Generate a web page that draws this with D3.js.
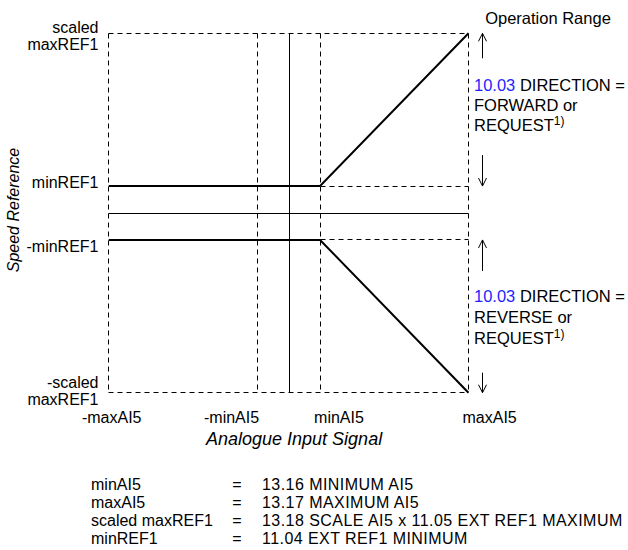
<!DOCTYPE html>
<html><head><meta charset="utf-8">
<script src="https://cdn.jsdelivr.net/npm/d3@7"></script>
<style>
html,body{margin:0;padding:0;background:#fff;}
svg{display:block;font-family:"Liberation Sans",Arial,sans-serif;}
</style></head>
<body><div id="chart"></div>
<script>
// ---- data ----
const xTicks = [-100, -17.5, 17.5, 100];
const xTickLabels = ["-maxAI5", "-minAI5", "minAI5", "maxAI5"];
const yTicks = [100, 15, -15, -100];
const yTickLabels = [["scaled", "maxREF1"], ["minREF1"], ["-minREF1"], ["-scaled", "maxREF1"]];
const forwardX = [-100, 17.5, 100];
const forwardY = [15, 15, 100];
const reverseX = [-100, 17.5, 100];
const reverseY = [-15, -15, -100];
const forwardText = ["DIRECTION =", "FORWARD or", "REQUEST"];
const reverseText = ["DIRECTION =", "REVERSE or", "REQUEST"];
const paramRef = "10.03";
const footerNames = ["minAI5", "maxAI5", "scaled maxREF1", "minREF1"];
const footerParams = ["13.16 MINIMUM AI5", "13.17 MAXIMUM AI5", "13.18 SCALE AI5 x 11.05 EXT REF1 MAXIMUM", "11.04 EXT REF1 MINIMUM"];
const xTitle = "Analogue Input Signal";
const yTitle = "Speed Reference";
const rangeTitle = "Operation Range";

// ---- drawing ----
const W = 628, H = 550;
const svg = d3.select("#chart").append("svg").attr("width", W).attr("height", H);
svg.append("rect").attr("width", W).attr("height", H).attr("fill", "#fff");

const x = d3.scaleLinear().domain([-100, 100]).range([108.7, 468.5]);
const y = d3.scaleLinear().domain([-100, 100]).range([392.7, 33.3]);
const px = v => Math.floor(v) + 0.5;
const dash = "5,4";
const g = svg.append("g");

// dashed guides
const xmin = px(x(-100)), xmax = px(x(100)), ytop = px(y(100)), ybot = px(y(-100));
xTicks.forEach(v => {
  g.append("line").attr("x1", px(x(v))).attr("x2", px(x(v))).attr("y1", ytop).attr("y2", ybot)
    .attr("stroke", "#000").attr("stroke-width", 1).attr("stroke-dasharray", dash);
});
[100, -100].forEach(v => {
  g.append("line").attr("x1", xmin).attr("x2", xmax).attr("y1", px(y(v))).attr("y2", px(y(v)))
    .attr("stroke", "#000").attr("stroke-width", 1).attr("stroke-dasharray", dash);
});
[15, -15].forEach(v => {
  g.append("line").attr("x1", px(x(17.5))).attr("x2", xmax).attr("y1", px(y(v))).attr("y2", px(y(v)))
    .attr("stroke", "#000").attr("stroke-width", 1).attr("stroke-dasharray", dash);
});

// axes (solid)
g.append("line").attr("x1", xmin).attr("x2", xmax).attr("y1", px(y(0))).attr("y2", px(y(0)))
  .attr("stroke", "#000").attr("stroke-width", 1);
g.append("line").attr("x1", px(x(0) + 1)).attr("x2", px(x(0) + 1)).attr("y1", ytop).attr("y2", ybot)
  .attr("stroke", "#000").attr("stroke-width", 1);

// curves
const line = d3.line().x(d => x(d[0])).y(d => y(d[1]));
g.append("path").attr("d", line(d3.zip(forwardX, forwardY)))
  .attr("fill", "none").attr("stroke", "#000").attr("stroke-width", 2);
g.append("path").attr("d", line(d3.zip(reverseX, reverseY)))
  .attr("fill", "none").attr("stroke", "#000").attr("stroke-width", 2);

// arrows
const ax = px(x(100) + 14);
function arrow(tipY, tailY) {
  const dir = tailY > tipY ? 1 : -1;
  g.append("line").attr("x1", ax).attr("x2", ax).attr("y1", tipY).attr("y2", tailY)
    .attr("stroke", "#000").attr("stroke-width", 1);
  g.append("path").attr("d", `M${ax - 4},${tipY + dir * 8}L${ax},${tipY}L${ax + 4},${tipY + dir * 8}`)
    .attr("fill", "none").attr("stroke", "#000").attr("stroke-width", 1);
}
arrow(y(100), y(100) + 25);
arrow(y(15), y(15) - 31);
arrow(y(-15), y(-15) + 31);
arrow(y(-100), y(-100) - 20);

// y tick labels
const yLab = g.append("g").attr("font-size", 16).attr("fill", "#000").attr("text-anchor", "end");
const yDy = [-0.5, 1.5, 12.5, -4.5];
yTicks.forEach((v, i) => {
  yTickLabels[i].forEach((t, j) => {
    yLab.append("text").attr("x", 98.5).attr("y", y(v) + yDy[i] + j * 17).text(t);
  });
});

// x tick labels
const xLab = g.append("g").attr("font-size", 16).attr("fill", "#000");
const xAnchor = ["middle", "end", "start", "start"];
const xDx = [3, 2, -6, -6];
xTicks.forEach((v, i) => {
  xLab.append("text").attr("x", x(v) + xDx[i]).attr("y", 423).attr("text-anchor", xAnchor[i]).text(xTickLabels[i]);
});

// axis titles
g.append("text").attr("x", 206).attr("y", 445).attr("font-size", 18).attr("font-style", "italic").text(xTitle);
g.append("text").attr("transform", "translate(19,210) rotate(-90)").attr("text-anchor", "middle")
  .attr("font-size", 16).attr("font-style", "italic").text(yTitle);
g.append("text").attr("x", 548).attr("y", 24).attr("text-anchor", "middle").attr("font-size", 16.5).text(rangeTitle);

// direction text blocks
function block(lines, baseY, gap) {
  const tx = x(100) + 5.5;
  lines.forEach((t, i) => {
    const txt = g.append("text").attr("x", tx).attr("y", baseY + i * gap).attr("font-size", 16.5).attr("fill", "#000");
    if (i === 0) {
      txt.append("tspan").attr("fill", "#1f1fff").text(paramRef);
      txt.append("tspan").text(" " + t);
    } else if (i === lines.length - 1) {
      txt.append("tspan").text(t);
      txt.append("tspan").attr("font-size", 12).attr("dy", -6).text("1)");
    } else {
      txt.text(t);
    }
  });
}
block(forwardText, 91, 20);
block(reverseText, 301.5, 21);

// footer
const foot = g.append("g").attr("font-size", 16).attr("fill", "#000");
footerNames.forEach((n, i) => {
  const by = 490 + i * 18;
  foot.append("text").attr("x", 91).attr("y", by).text(n);
  foot.append("text").attr("x", 237).attr("y", by).attr("text-anchor", "middle").text("=");
  foot.append("text").attr("x", 262).attr("y", by).attr("letter-spacing", 0.45).text(footerParams[i]);
});
</script></body></html>
